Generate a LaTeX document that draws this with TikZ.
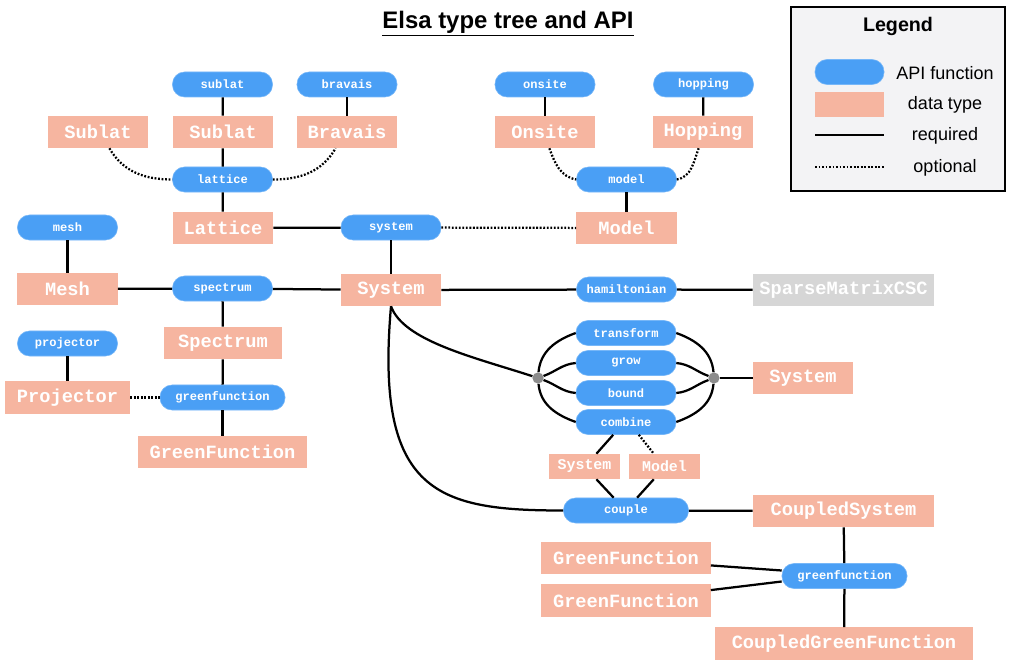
\documentclass[tikz,border=0pt]{standalone}
\usepackage{fontspec}
\setmainfont{Liberation Sans}
\newfontfamily\codefont{Liberation Mono}
\usepackage{tikz}

\definecolor{apiblue}{HTML}{4A9FF5}
\definecolor{dtsalmon}{HTML}{F6B5A0}
\definecolor{sparsegray}{HTML}{D6D6D6}
\definecolor{hubgray}{HTML}{8C8C8C}
\definecolor{legendgray}{HTML}{F3F3F5}

\tikzset{
  func/.style={rectangle, rounded corners=0.3cm, fill=apiblue, draw=apiblue!75!white, thin,
    minimum width=2.5cm, minimum height=0.625cm, inner sep=0pt, text=white,
    font=\codefont\bfseries\fontsize{8.6}{10}\selectfont},
  dtype/.style={rectangle, fill=dtsalmon, minimum width=2.5cm, minimum height=0.8cm,
    inner sep=0pt, text=white, font=\codefont\bfseries\fontsize{13.3}{15}\selectfont},
  smalltype/.style={minimum width=1.775cm, minimum height=0.625cm,
    font=\codefont\bfseries\fontsize{10.6}{12}\selectfont},
  hub/.style={circle, fill=hubgray, inner sep=0pt, minimum size=0.28cm},
  opt/.style={dash pattern=on 1.3pt off 1.2pt},
}

\begin{document}
\begin{tikzpicture}[x=0.025cm, y=-0.025cm]
   \useasboundingbox (0,0) rectangle (1012,668);

   % title and legend
   \node (title) at (508,24) {\bfseries\fontsize{17}{20}\selectfont\underline{Elsa type tree and API}};
   \node[draw, line width=1.6pt, fill=legendgray, minimum width=5.35cm, minimum height=4.6cm] (legend) at (898,99) {};
   \node (legtitle) at (898,26) {\bfseries\fontsize{14}{17}\selectfont Legend};
   \node[func, minimum width=1.725cm] (legfunc) at (849.5,72) {};
   \node[dtype, minimum width=1.725cm, minimum height=0.625cm] (legtype) at (849.5,104.5) {};
   \coordinate (legreq1) at (815,135);
   \coordinate (legreq2) at (884,135);
   \coordinate (legopt1) at (815,167);
   \coordinate (legopt2) at (884,167);
   \begin{scope}[every node/.style={font=\fontsize{12.8}{15}\selectfont}]
    \node (legfunctext) at (945,73) {API function};
    \node (legtypetext) at (945,105) {data type};
    \node (legreqtext) at (945,136) {required};
    \node (legopttext) at (945,168) {optional};
   \end{scope}

   % API functions
   \begin{scope}[every node/.style=func]
    \node (fsublat) at (222.5,84.5) {sublat};
    \node (fbravais) at (347,84.5) {bravais};
    \node (fonsite) at (545,84.5) {onsite};
    \node (fhopping) at (703.5,84.5) {hopping};
    \node (flattice) at (222.5,179.5) {lattice};
    \node (fmodel) at (626.5,179.5) {model};
    \node (fmesh) at (67.5,227.5) {mesh};
    \node (fsystem) at (391,227.5) {system};
    \node (fspectrum) at (222.5,288.5) {spectrum};
    \node (fhamiltonian) at (626.5,289.5) {hamiltonian};
    \node (fprojector) at (67.5,343.5) {projector};
    \node[minimum width=3.125cm] (fgreen) at (222.5,397.5) {greenfunction};
    \node (ftransform) at (626,333) {transform};
    \node (fgrow) at (626,363) {grow};
    \node (fbound) at (626,393) {bound};
    \node (fcombine) at (626,422) {combine};
    \node[minimum width=3.125cm] (fcouple) at (626,510.5) {couple};
    \node[minimum width=3.125cm] (fgreencs) at (844.5,576) {greenfunction};
   \end{scope}

   % data types
   \begin{scope}[every node/.style=dtype]
    \node (tsublatopt) at (98,132) {Sublat};
    \node (tsublat) at (223,132) {Sublat};
    \node (tbravais) at (347,132) {Bravais};
    \node (tonsite) at (545,132) {Onsite};
    \node (thopping) at (703,132) {Hopping};
    \node (tlattice) at (223,228) {Lattice};
    \node (tmodel) at (626.5,228) {Model};
    \node (tmesh) at (67.5,289) {Mesh};
    \node (tsystem) at (391,290) {System};
    \node[fill=sparsegray, minimum width=4.525cm] (tsparse) at (843.5,290) {SparseMatrixCSC};
    \node[minimum width=2.95cm] (tspectrum) at (223,343) {Spectrum};
    \node[minimum width=3.125cm] (tprojector) at (67.5,397.5) {Projector};
    \node[minimum width=4.225cm] (tgreen) at (222.5,452) {GreenFunction};
    \node (tsystemout) at (803,378) {System};
    \node[smalltype] (tsystemc) at (584.5,466.5) {System};
    \node[smalltype] (tmodelc) at (664.5,466.5) {Model};
    \node[minimum width=4.525cm] (tcoupled) at (843.5,511) {CoupledSystem};
    \node[minimum width=4.225cm] (tgreena) at (626,558) {GreenFunction};
    \node[minimum width=4.225cm] (tgreenb) at (626,600.5) {GreenFunction};
    \node[minimum width=6.425cm] (tcgreen) at (844,643.5) {CoupledGreenFunction};
   \end{scope}

   \node[hub] (hubin) at (538,378) {};
   \node[hub] (hubout) at (714,378) {};

   \begin{scope}[every edge/.style={draw=black, line width=1.6pt}]
    \draw (legreq1) edge (legreq2);
    \draw (legopt1) edge[opt] (legopt2);
    % lattice branch
    \draw (fsublat) edge (tsublat);
    \draw (fbravais) edge (tbravais);
    \draw (tsublat) edge (flattice);
    \draw (tsublatopt.-55) edge[opt, out=-60, in=180] (flattice.west);
    \draw (flattice.east) edge[opt, out=0, in=-120] (tbravais.-125);
    \draw (flattice) edge (tlattice);
    % model branch
    \draw (fonsite) edge (tonsite);
    \draw (fhopping) edge (thopping);
    \draw (tonsite.-75) edge[opt, out=-70, in=170] (fmodel.west);
    \draw (fmodel.east) edge[opt, out=10, in=-110] (thopping.-105);
    \draw (fmodel) edge (tmodel);
    % system
    \draw (tlattice) edge (fsystem);
    \draw (fsystem) edge[opt] (tmodel);
    \draw (fsystem) edge (tsystem);
    \draw (fmesh) edge (tmesh);
    \draw (tmesh) edge (fspectrum);
    \draw (fspectrum) edge (tsystem);
    \draw (fspectrum) edge (tspectrum);
    \draw (tspectrum) edge (fgreen);
    \draw (fgreen) edge (tgreen);
    \draw (fprojector) edge (tprojector);
    \draw (tprojector) edge[opt] (fgreen);
    \draw (tsystem) edge (fhamiltonian);
    \draw (fhamiltonian) edge (tsparse);
    % transformations
    \draw (tsystem.south) edge[out=-70, in=162, out looseness=0.6] (hubin);
    \draw (hubin) edge[out=85, in=200] (ftransform.west);
    \draw (hubin) edge[out=20, in=185] (fgrow.west);
    \draw (hubin) edge[out=-20, in=175] (fbound.west);
    \draw (hubin) edge[out=-85, in=160] (fcombine.west);
    \draw (ftransform.east) edge[out=-20, in=95] (hubout);
    \draw (fgrow.east) edge[out=-5, in=160] (hubout);
    \draw (fbound.east) edge[out=5, in=-160] (hubout);
    \draw (fcombine.east) edge[out=20, in=-95] (hubout);
    \draw (hubout) edge (tsystemout);
    % coupling
    \draw (fcombine.-135) edge (tsystemc.47);
    \draw (fcombine.-45) edge[opt] (tmodelc.130);
    \draw (tsystemc.-47) edge (fcouple.134);
    \draw (tmodelc.-130) edge (fcouple.49);
    \draw (tsystem.south) edge[out=-95, in=180, out looseness=1.8, in looseness=1.2] (fcouple.west);
    \draw (fcouple) edge (tcoupled);
    \draw (tcoupled) edge (fgreencs);
    \draw (tgreena.-5) edge (fgreencs.175);
    \draw (tgreenb.7) edge (fgreencs.185);
    \draw (fgreencs) edge (tcgreen);
   \end{scope}
\end{tikzpicture}
\end{document}
